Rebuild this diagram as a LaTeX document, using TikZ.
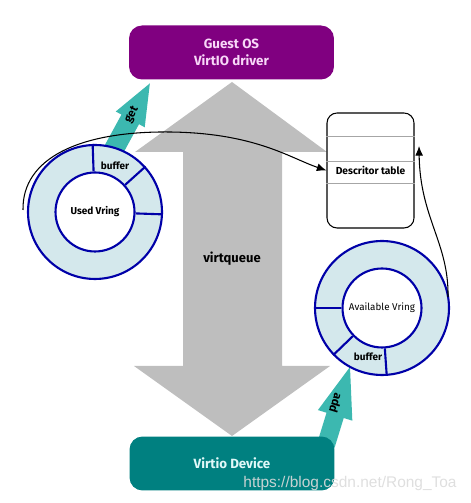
\documentclass[tikz,border=0pt]{standalone}
\usepackage{fontspec}
\setmainfont{Fira Sans}
\newfontfamily\markfont{Liberation Sans}
\usetikzlibrary{positioning,arrows.meta}

\definecolor{guestpurple}{HTML}{800080}
\definecolor{guesttext}{HTML}{F8D8F8}
\definecolor{devteal}{HTML}{008080}
\definecolor{devtext}{HTML}{E0F8F8}
\definecolor{arrowteal}{HTML}{3CB8B0}
\definecolor{queuegray}{HTML}{BEBEBE}
\definecolor{ringblue}{HTML}{0000A8}
\definecolor{ringfill}{HTML}{D4E8EC}

\tikzset{
  hostbox/.style={rectangle, rounded corners=0.26cm, minimum width=4.1cm, minimum height=1.08cm, align=center, inner sep=0pt, font=\fontsize{7.6}{9.7}\selectfont\bfseries},
  ring/.style={circle, draw=ringblue, line width=1.2pt, fill=ringfill, minimum size=2.68cm, inner sep=0pt},
  hub/.style={circle, draw=ringblue, line width=1.2pt, fill=white, minimum size=1.58cm, inner sep=0pt},
  spoke/.style={draw=ringblue, line width=1.2pt},
  tablebox/.style={rectangle, draw, rounded corners=0.2cm, minimum width=1.74cm, minimum height=2.3cm, line width=0.6pt, font=\fontsize{5.8}{7}\selectfont\bfseries},
  ringtext/.style={font=\fontsize{5.7}{7}\selectfont\bfseries, inner sep=0pt},
  blocktext/.style={font=\fontsize{6.6}{8}\selectfont\bfseries, inner sep=0pt},
  flow/.style={->, line width=0.6pt},
}

\begin{document}
\begin{tikzpicture}[x=0.02cm, y=0.02cm, >={Latex[length=5.5pt,width=4.5pt]}]
	\useasboundingbox (0,0) rectangle (470,503);
	
	% virtqueue
	\fill[queuegray] (232,421) -- (327,351) -- (282,351) -- (282,137) -- (330,137) -- (232,67)
		-- (134,137) -- (183,137) -- (183,351) -- (135,351) -- cycle;
	\node[font=\fontsize{7.4}{9}\selectfont\bfseries] (queue) at (232,244) {virtqueue};
	
	% get and add
	\begin{scope}[shift={(113,352)}, rotate=61.4]
		\fill[arrowteal] (0,-10) -- (36,-10) -- (36,-16.5) -- (77,0) -- (36,16.5) -- (36,10) -- (0,10) -- cycle;
	\end{scope}
	\node[blocktext, rotate=61.4] (getlabel) at (132,388) {get};
	\begin{scope}[shift={(326,58)}, rotate=72.9]
		\fill[arrowteal] (0,-9) -- (31,-9) -- (31,-18) -- (81.6,0) -- (31,18) -- (31,9) -- (0,9) -- cycle;
	\end{scope}
	\node[blocktext, rotate=252.9] (addlabel) at (336,100) {add};
	
	% driver and device
	\node[hostbox, fill=guestpurple, text=guesttext] (guest) at (231.5,450.5) {Guest OS\\VirtIO driver};
	\node[hostbox, fill=devteal, text=devtext] (device) at (232,39.5) {Virtio Device};
	
	% used ring
	\node[ring] (used) at (95,291) {};
	\node[hub, ringtext] (usedhub) at (95,291) {Used Vring};
	\draw[spoke] (usedhub.92) -- (used.92);
	\draw[spoke] (usedhub.42) -- (used.42);
	\draw[spoke] (usedhub.-2) -- (used.-2);
	\node[ringtext] (usedbuf) at (115,337) {buffer};
	
	% available ring
	\node[ring] (avail) at (382,195) {};
	\node[hub, ringtext, font=\fontsize{5.6}{7}\selectfont] (availhub) at (382,195) {Available Vring};
	\draw[spoke] (availhub.180) -- (avail.180);
	\draw[spoke] (availhub.224) -- (avail.224);
	\draw[spoke] (availhub.274) -- (avail.274);
	\node[ringtext] (availbuf) at (368,146) {buffer};
	
	% descriptor table
	\node[tablebox] (desc) at (370.5,332.5) {Descritor table};
	\draw[gray!70, line width=0.5pt] ([yshift=0.69cm]desc.west) -- ([yshift=0.69cm]desc.east);
	\draw[gray!70, line width=0.5pt] ([yshift=0.19cm]desc.west) -- ([yshift=0.19cm]desc.east);
	\draw[gray!70, line width=0.5pt] ([yshift=-0.25cm]desc.west) -- ([yshift=-0.25cm]desc.east);
	
	\coordinate (usedtail) at (23,293);
	\coordinate (availtail) at (448,206);
	\coordinate (deschead) at (419,357);
	\draw[flow] (usedtail) .. controls (22,345) and (80,372) .. (170,371)
		.. controls (255,370) and (290,345) .. (desc.west);
	\draw[flow] (availtail) .. controls (449,260) and (420,285) .. (deschead);
	
	\node[font=\markfont\fontsize{8.8}{10}\selectfont, text=gray!28, text opacity=0.9] (mark) at (350,19) {https://blog.csdn.net/Rong\_Toa};
\end{tikzpicture}
\end{document}
